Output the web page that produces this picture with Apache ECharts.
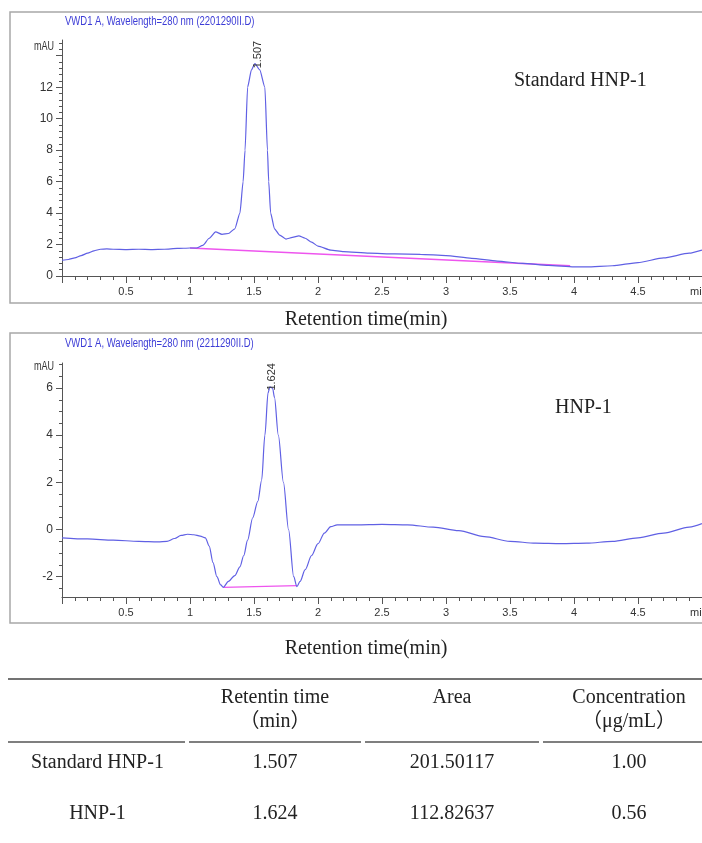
<!DOCTYPE html>
<html>
<head>
<meta charset="utf-8">
<title>HNP-1 HPLC</title>
<style>
  html, body { margin: 0; padding: 0; background: #fff; }
  #main { width: 702px; height: 843px; }
</style>
<script src="https://cdn.jsdelivr.net/npm/echarts@6/dist/echarts.min.js"></script>
</head>
<body>
<div id="main"></div>
<script>
// chromatogram of the standard (time in min, signal in mAU)
var stdCurve = [
  [0, 1.0], [0.05, 1.05], [0.1, 1.15], [0.15, 1.3], [0.2, 1.45], [0.25, 1.6], [0.3, 1.7],
  [0.35, 1.72], [0.4, 1.7], [0.5, 1.68], [0.6, 1.7], [0.7, 1.68], [0.8, 1.7], [0.9, 1.75],
  [1.0, 1.78], [1.05, 1.78], [1.1, 1.95], [1.15, 2.4], [1.2, 2.8], [1.25, 2.65], [1.3, 2.7],
  [1.35, 3.0], [1.39, 4.0], [1.415, 6.0], [1.43, 8.0], [1.45, 12.0], [1.48, 13.1], [1.507, 13.5],
  [1.545, 13.1], [1.585, 12.0], [1.605, 8.0], [1.615, 6.0], [1.63, 4.0], [1.66, 3.0], [1.7, 2.6],
  [1.75, 2.35], [1.8, 2.45], [1.85, 2.55], [1.9, 2.4], [1.95, 2.15], [2.0, 1.9], [2.1, 1.65],
  [2.2, 1.55], [2.4, 1.45], [2.6, 1.4], [2.8, 1.38], [3.0, 1.3], [3.2, 1.12], [3.4, 0.95],
  [3.6, 0.8], [3.8, 0.68], [4.0, 0.58], [4.1, 0.58], [4.3, 0.65], [4.5, 0.85], [4.7, 1.15],
  [4.9, 1.45], [5.0, 1.65]
];
var stdBaseline = [[1.0, 1.78], [3.97, 0.65]];
var stdPeak = [1.507, 13.5];
var stdYTicks = [0, 2, 4, 6, 8, 10, 12, 14];
var stdYLabels = [0, 2, 4, 6, 8, 10, 12];

// chromatogram of the sample
var sampleCurve = [
  [0, -0.35], [0.2, -0.4], [0.4, -0.45], [0.6, -0.5], [0.75, -0.52], [0.82, -0.5], [0.88, -0.38],
  [0.93, -0.25], [0.98, -0.2], [1.03, -0.22], [1.08, -0.28], [1.12, -0.35], [1.15, -0.7],
  [1.18, -1.4], [1.21, -2.0], [1.24, -2.35], [1.26, -2.45], [1.3, -2.2], [1.35, -1.95],
  [1.39, -1.58], [1.42, -1.1], [1.45, -0.45], [1.49, 0.5], [1.53, 1.2], [1.56, 2.1],
  [1.585, 4.0], [1.61, 5.8], [1.624, 6.05], [1.645, 6.0], [1.66, 5.6], [1.69, 4.0], [1.73, 2.0],
  [1.77, 0.0], [1.81, -2.0], [1.835, -2.42], [1.86, -2.2], [1.9, -1.7], [1.95, -1.1],
  [2.0, -0.6], [2.05, -0.15], [2.1, 0.12], [2.15, 0.2], [2.3, 0.2], [2.5, 0.22], [2.7, 0.2],
  [2.9, 0.1], [3.1, -0.05], [3.3, -0.3], [3.5, -0.5], [3.7, -0.58], [3.9, -0.6], [4.1, -0.58],
  [4.3, -0.5], [4.5, -0.35], [4.7, -0.15], [4.9, 0.1], [5.0, 0.25]
];
var sampleBaseline = [[1.26, -2.45], [1.835, -2.38]];
var samplePeak = [1.624, 6.05];
var sampleYTicks = [-2, 0, 2, 4, 6];
var sampleYLabels = [-2, 0, 2, 4, 6];

var plotTitles = ['VWD1 A, Wavelength=280 nm (2201290II.D)', 'VWD1 A, Wavelength=280 nm (2211290II.D)'];
var sampleNames = ['Standard HNP-1', 'HNP-1'];
var xCaption = 'Retention time(min)';

// table
var tableHead = ['', 'Retentin time\n\uff08min\uff09', 'Area', 'Concentration\n\uff08\u03bcg/mL\uff09'];
var rowNames = ['Standard HNP-1', 'HNP-1'];
var retTimes = ['1.507', '1.624'];
var areas = ['201.50117', '112.82637'];
var concs = ['1.00', '0.56'];

var blue = '#6060e4';
var pink = '#ee55ee';
var axisGray = '#555';
var sans = "'Liberation Sans', Arial, sans-serif";
var serif = "'Liberation Serif', 'Times New Roman', 'Noto Sans CJK SC', serif";

function xAxisOf (gi) {
  return {
    type: 'value', gridIndex: gi, min: 0, max: 5, interval: 0.5,
    axisLine: { onZero: false, lineStyle: { color: axisGray, width: 1 } },
    axisTick: { length: 7, lineStyle: { color: axisGray } },
    minorTick: { show: true, splitNumber: 5, length: 4, lineStyle: { color: axisGray } },
    splitLine: { show: false },
    axisLabel: {
      margin: 10, color: '#333', fontSize: 11, fontFamily: sans,
      formatter: function (v) { return v === 0 ? '' : (v === 5 ? 'min  ' : String(v)) }
    }
  }
}
// main y axis: long ticks at the labelled values
function yAxisOf (gi, min, max, ticks, labels) {
  return {
    type: 'value', gridIndex: gi, position: 'left', min: min, max: max,
    axisLine: { show: true, onZero: false, lineStyle: { color: axisGray, width: 1 } },
    axisTick: { show: true, length: 6, customValues: ticks, lineStyle: { color: axisGray } },
    splitLine: { show: false },
    axisLabel: { margin: 9, color: '#333', fontSize: 12, fontFamily: sans, customValues: labels }
  }
}
// companion y axis that only carries the short minor ticks
function yMinorOf (gi, min, max, ticks, parts) {
  var minor = [];
  var step = (ticks[1] - ticks[0]) / parts;
  for (var v = ticks[0] - step * (parts - 1); v < max; v += step) {
    var r = Math.round(v * 1000) / 1000;
    if (r > min && ticks.indexOf(r) < 0) minor.push(r);
  }
  return {
    type: 'value', gridIndex: gi, position: 'left', offset: 0, min: min, max: max,
    axisLine: { show: false, onZero: false },
    axisTick: { show: true, length: 3, customValues: minor, lineStyle: { color: axisGray } },
    splitLine: { show: false },
    axisLabel: { show: false }
  }
}
function peakMark (p, off) {
  return {
    symbol: 'circle', symbolSize: 0, silent: true,
    data: [{ coord: p, value: p[0].toFixed(3) }],
    label: {
      show: true, position: 'inside', rotate: 90, offset: off,
      formatter: '{c}', color: '#333', fontSize: 11, fontFamily: sans
    }
  }
}
function txt (x, y, s, font, fill, align, extra) {
  var el = { type: 'text', x: x, y: y, style: { text: s, fill: fill, font: font, align: align || 'left', verticalAlign: 'middle' } };
  if (extra) for (var k in extra) el[k] = extra[k];
  return el;
}

var graphics = [
  { type: 'rect', shape: { x: 10, y: 12, width: 700, height: 291 }, style: { fill: 'none', stroke: '#a8a8a8', lineWidth: 1.5 } },
  { type: 'rect', shape: { x: 10, y: 333, width: 700, height: 290 }, style: { fill: 'none', stroke: '#a8a8a8', lineWidth: 1.5 } },
  txt(65, 21, plotTitles[0], '9.5px ' + sans, '#3c3cd6', 'left', { scaleY: 1.35 }),
  txt(65, 343, plotTitles[1], '9.5px ' + sans, '#3c3cd6', 'left', { scaleY: 1.35 }),
  txt(54, 47, 'mAU', '9px ' + sans, '#333', 'right', { scaleY: 1.35 }),
  txt(54, 367, 'mAU', '9px ' + sans, '#333', 'right', { scaleY: 1.35 }),
  txt(514, 81, sampleNames[0], '20px ' + serif, '#222'),
  txt(555, 408, sampleNames[1], '20px ' + serif, '#222'),
  txt(366, 320, xCaption, '20px ' + serif, '#222', 'center'),
  txt(366, 649, xCaption, '20px ' + serif, '#222', 'center'),
  // table rules
  { type: 'line', shape: { x1: 8, y1: 679, x2: 702, y2: 679 }, style: { stroke: '#444', lineWidth: 1.5 } }
];
var colEdges = [8, 187, 363, 541, 717];
var tableCols = [rowNames, retTimes, areas, concs];
for (var c = 0; c < 4; c++) {
  graphics.push({ type: 'line', shape: { x1: colEdges[c] + (c ? 2 : 0), y1: 742, x2: colEdges[c + 1] - 2, y2: 742 }, style: { stroke: '#555', lineWidth: 1.5 } });
  var cx = (colEdges[c] + colEdges[c + 1]) / 2;
  if (tableHead[c]) {
    graphics.push({ type: 'text', x: cx, y: 686, style: { text: tableHead[c], fill: '#222', font: '20px ' + serif, align: 'center', verticalAlign: 'top', lineHeight: 24 } });
  }
  graphics.push(txt(cx, 763, tableCols[c][0], '20px ' + serif, '#222', 'center'));
  graphics.push(txt(cx, 814, tableCols[c][1], '20px ' + serif, '#222', 'center'));
}

var option = {
  animation: false,
  backgroundColor: '#fff',
  grid: [
    { left: 62, top: 40, width: 640, height: 236, outerBoundsMode: 'none' },
    { left: 62, top: 363, width: 640, height: 234, outerBoundsMode: 'none' }
  ],
  xAxis: [xAxisOf(0), xAxisOf(1)],
  yAxis: [
    yAxisOf(0, 0, 15, stdYTicks, stdYLabels),
    yAxisOf(1, -2.86, 7.06, sampleYTicks, sampleYLabels),
    yMinorOf(0, 0, 15, stdYTicks, 5),
    yMinorOf(1, -2.86, 7.06, sampleYTicks, 4)
  ],
  series: [
    { type: 'line', xAxisIndex: 0, yAxisIndex: 0, data: stdBaseline, showSymbol: false, lineStyle: { color: pink, width: 1.3 } },
    { type: 'line', xAxisIndex: 0, yAxisIndex: 0, data: stdCurve, showSymbol: false, smooth: 0.2, smoothMonotone: 'x',
      lineStyle: { color: blue, width: 1.2 }, markPoint: peakMark(stdPeak, [9, 3]) },
    { type: 'line', xAxisIndex: 1, yAxisIndex: 1, data: sampleBaseline, showSymbol: false, lineStyle: { color: pink, width: 1.3 } },
    { type: 'line', xAxisIndex: 1, yAxisIndex: 1, data: sampleCurve, showSymbol: false, smooth: 0.3, smoothMonotone: 'x',
      lineStyle: { color: blue, width: 1.2 }, markPoint: peakMark(samplePeak, [10, 2]) }
  ],
  graphic: graphics
};

var myChart = echarts.init(document.getElementById('main'));
myChart.setOption(option);
</script>
</body>
</html>
